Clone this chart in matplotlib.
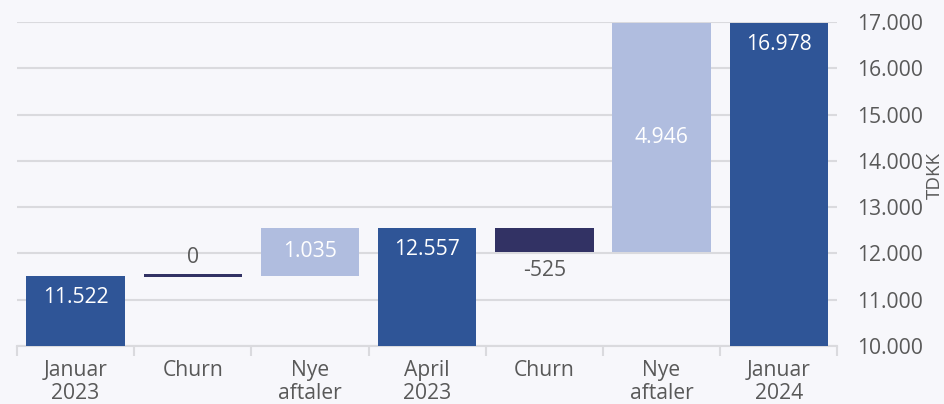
import numpy as np
import matplotlib.pyplot as plt
from matplotlib.ticker import FuncFormatter, FixedLocator

plt.rcParams['font.family'] = ['Open Sans', 'DejaVu Sans']

# data
categories = ['Januar\n2023', 'Churn', 'Nye\naftaler', 'April\n2023', 'Churn', 'Nye\naftaler', 'Januar\n2024']
values = [11522, 0, 1035, 12557, -525, 4946, 16978]
kinds = ['total', 'delta', 'delta', 'total', 'delta', 'delta', 'total']
y_ticks = [10000, 11000, 12000, 13000, 14000, 15000, 16000, 17000]

BG = '#f7f7fb'
DARK = '#2f5597'
NAVY = '#323264'
LIGHT = '#b0bddf'
TXT = '#595959'
GRID = '#dadade'
FS = 15.2


def fmt(v):
    return f'{v:,.0f}'.replace(',', '.')


fig = plt.figure(figsize=(9.44, 4.04), dpi=100, facecolor=BG)
ax = fig.add_axes([0.018, 0.1436, 0.869, 0.8019], facecolor=BG)

x = np.arange(len(categories))
width = 0.84
running = 0
for i, (v, k) in enumerate(zip(values, kinds)):
    if k == 'total':
        ax.bar(x[i], v - 10000, bottom=10000, width=width, color=DARK, zorder=3)
        ax.text(x[i], v - 470, fmt(v), ha='center', va='center', color='white', fontsize=FS, zorder=4)
        running = v
    else:
        if v == 0:
            ax.bar(x[i], 55, bottom=running - 27, width=width, color=NAVY, zorder=3)
            ax.text(x[i], running + 400, fmt(v), ha='center', va='center', color=TXT, fontsize=FS, zorder=4)
        elif v < 0:
            ax.bar(x[i], v, bottom=running, width=width, color=NAVY, zorder=3)
            ax.text(x[i], running + v - 400, fmt(v), ha='center', va='center', color=TXT, fontsize=FS, zorder=4)
        else:
            ax.bar(x[i], v, bottom=running, width=width, color=LIGHT, zorder=3)
            ax.text(x[i], running + v / 2, fmt(v), ha='center', va='center', color='white', fontsize=FS, zorder=4)
        running += v

ax.set_xlim(-0.5, len(categories) - 0.5)
ax.set_ylim(10000, 17000)

ax.yaxis.tick_right()
ax.yaxis.set_label_position('right')
ax.set_yticks(y_ticks)
ax.yaxis.set_major_formatter(FuncFormatter(lambda v, p: fmt(v)))
ax.tick_params(axis='y', length=0, pad=14, labelsize=FS, labelcolor=TXT)
ax.set_ylabel('TDKK', fontsize=13.5, color=TXT)
ax.yaxis.set_label_coords(1.108, 0.525)
ax.grid(axis='y', color=GRID, linewidth=1.5, zorder=0)

ax.xaxis.set_major_locator(FixedLocator(np.arange(-0.5, len(categories), 1.0)))
ax.xaxis.set_major_formatter(FuncFormatter(lambda v, p: ''))
ax.xaxis.set_minor_locator(FixedLocator(x))
ax.set_xticklabels(categories, minor=True)
ax.tick_params(axis='x', which='major', length=7, width=1.5, color=GRID, direction='out')
ax.tick_params(axis='x', which='minor', length=0, pad=10, labelsize=FS, labelcolor=TXT)
for lbl in ax.get_xticklabels(minor=True):
    lbl.set_linespacing(1.12)

for s in ['top', 'left', 'right']:
    ax.spines[s].set_visible(False)
ax.spines['bottom'].set_color(GRID)
ax.spines['bottom'].set_linewidth(1.5)

fig.savefig('out.png', dpi=100, facecolor=BG)
